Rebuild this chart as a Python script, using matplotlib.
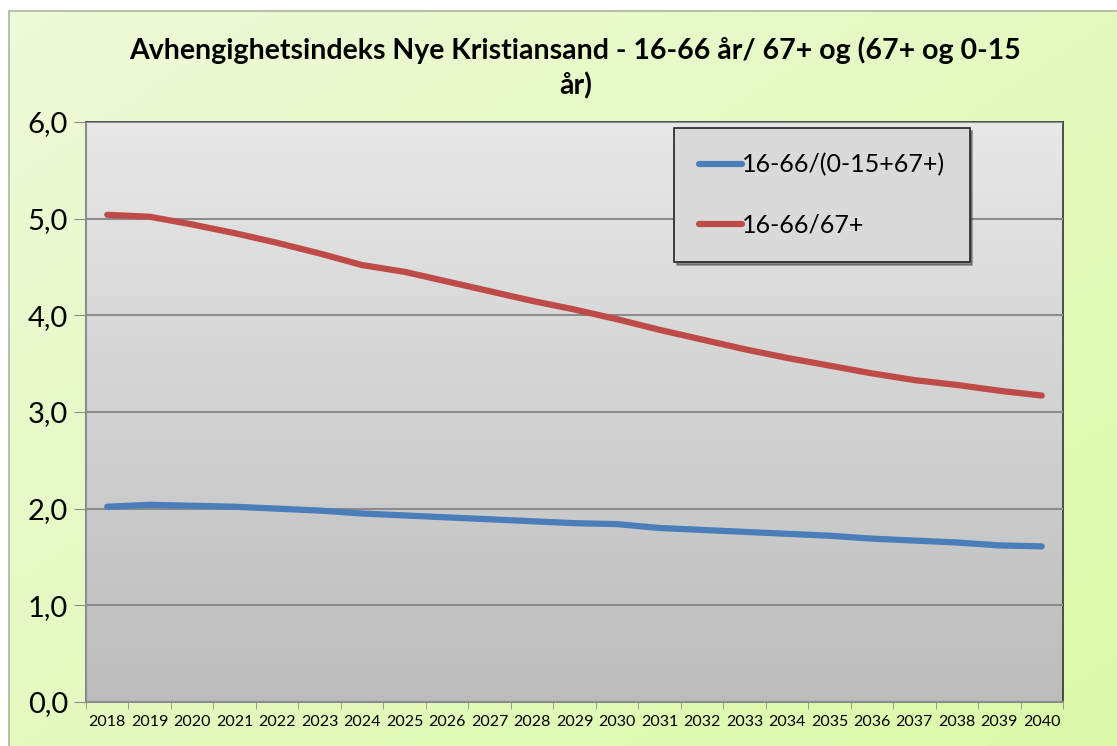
import numpy as np
import matplotlib.pyplot as plt
from matplotlib.patches import Rectangle
from matplotlib.colors import LinearSegmentedColormap

plt.rcParams['font.family'] = ['Lato', 'DejaVu Sans']

years = [str(y) for y in range(2018, 2041)]
ratio_all = [2.02, 2.04, 2.03, 2.02, 2.00, 1.98, 1.95, 1.93, 1.91, 1.89, 1.87, 1.85,
             1.84, 1.80, 1.78, 1.76, 1.74, 1.72, 1.69, 1.67, 1.65, 1.62, 1.61]
ratio_old = [5.04, 5.02, 4.94, 4.85, 4.75, 4.64, 4.52, 4.45, 4.35, 4.25, 4.15, 4.06,
             3.96, 3.85, 3.75, 3.65, 3.56, 3.48, 3.40, 3.33, 3.28, 3.22, 3.17]
labels = ['16-66/(0-15+67+)', '16-66/67+']
colors = ['#4a7ebb', '#be4b48']

W, H = 1117, 746
fig = plt.figure(figsize=(W / 100, H / 100), dpi=100, facecolor='white')

# green chart background with gradient
bg = fig.add_axes([9 / W, 0, 1 - 9 / W, 1 - 11 / H], zorder=-10)
green = LinearSegmentedColormap.from_list('g', ['#eefad8', '#dcf9a9'])
grad = np.linspace(0, 1, 256).reshape(-1, 1) * 0.5 + np.linspace(0, 1, 256).reshape(1, -1) * 0.5
bg.imshow(grad, cmap=green, aspect='auto', extent=[0, 1, 0, 1], origin='upper')
bg.set_xlim(0, 1)
bg.set_ylim(0, 1)
bg.axis('off')
fig.patches.append(Rectangle((9 / W, -0.01), 1, 1 - 11 / H + 0.01, transform=fig.transFigure,
                             fill=False, edgecolor='#a8b89a', linewidth=1.2, zorder=-5))

ax = fig.add_axes([86 / W, 1 - 702 / H, (1063 - 86) / W, (702 - 122) / H])
x = np.arange(len(years))
ax.set_xlim(-0.5, len(years) - 0.5)
ax.set_ylim(0, 6)

# gray plot-area gradient
gray = LinearSegmentedColormap.from_list('gr', ['#bcbcbc', '#e8e8e8'])
ax.imshow(np.linspace(0, 1, 256).reshape(-1, 1), cmap=gray, aspect='auto',
          extent=[-0.5, len(years) - 0.5, 0, 6], origin='lower', zorder=0)

ax.set_yticks(np.arange(0, 7, 1))
ax.set_yticklabels([f'{v:.1f}'.replace('.', ',') for v in range(0, 7)], fontsize=21)
ax.set_xticks(x)
ax.set_xticklabels(years, fontsize=11.5)
ax.set_xticks(np.arange(-0.5, len(years), 1), minor=True)
ax.tick_params(axis='x', which='major', length=0, pad=9)
ax.tick_params(axis='x', which='minor', length=5, color='#8c8c8c')
ax.tick_params(axis='y', length=9, color='#8c8c8c', pad=4)
ax.grid(axis='y', color='#8c8c8c', linewidth=1.5, zorder=1)
ax.set_axisbelow(False)

for side in ['left', 'bottom']:
    ax.spines[side].set_color('#8c8c8c')
    ax.spines[side].set_linewidth(1.5)
for side in ['right', 'top']:
    ax.spines[side].set_color('#333333')
    ax.spines[side].set_linewidth(1.2)

ax.plot(x, ratio_all, color=colors[0], linewidth=4.5, solid_capstyle='round',
        label=labels[0], zorder=3)
ax.plot(x, ratio_old, color=colors[1], linewidth=4.5, solid_capstyle='round',
        label=labels[1], zorder=3)

leg = ax.legend(loc='upper left', bbox_to_anchor=((674 - 86) / (1063 - 86), 1 - 6 / 580),
                fontsize=18, frameon=True, fancybox=False, shadow=True,
                handlelength=1.7, handletextpad=0.0, labelspacing=1.5,
                borderpad=1.0, borderaxespad=0)
leg.get_frame().set_facecolor('#dadada')
leg.get_frame().set_edgecolor('#222222')
leg.get_frame().set_linewidth(1.2)
leg.get_frame().set_alpha(1)

fig.text(0.515, 1 - 50 / H, 'Avhengighetsindeks Nye Kristiansand - 16-66 år/ 67+ og (67+ og 0-15',
         ha='center', va='center', fontsize=20.5, fontweight='bold')
fig.text(0.515, 1 - 86 / H, 'år)', ha='center', va='center', fontsize=20.5, fontweight='bold')

fig.savefig('out.png', dpi=100)
